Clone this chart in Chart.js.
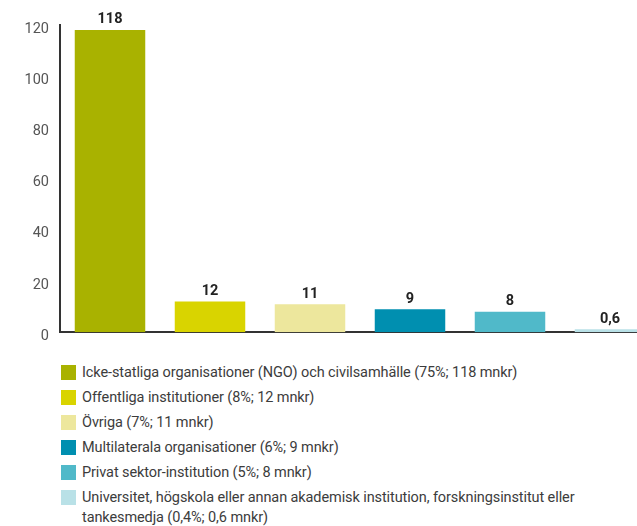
<!DOCTYPE html>
<html lang="sv">
<head>
    <meta charset="UTF-8">
    <title>Mottagare</title>
    <script src="https://cdn.jsdelivr.net/npm/chart.js"></script>
    <style>
        body { margin: 0; background: #fff; overflow: hidden; width: 637px; height: 526px; }
        #wrap { position: absolute; left: 0; top: 0; width: 660px; height: 352px; }
        #legend { position: absolute; left: 61px; top: 363px; font-family: Roboto, sans-serif; font-size: 14.5px; color: #3c3c3c; }
        .item { display: flex; align-items: flex-start; margin-bottom: 5px; }
        .sw { width: 15px; height: 15px; flex: none; margin-top: 2px; margin-right: 6px; }
        .txt { width: 530px; line-height: 20px; letter-spacing: -0.1px; }
    </style>
</head>
<body>
<div id="wrap"><canvas id="chart"></canvas></div>
<div id="legend"></div>
<script>
    var labels = [
        'Icke-statliga organisationer (NGO) och civilsamhälle (75%; 118 mnkr)',
        'Offentliga institutioner (8%; 12 mnkr)',
        'Övriga (7%; 11 mnkr)',
        'Multilaterala organisationer (6%; 9 mnkr)',
        'Privat sektor-institution (5%; 8 mnkr)',
        'Universitet, högskola eller annan akademisk institution, forskningsinstitut eller tankesmedja (0,4%; 0,6 mnkr)'
    ];
    var values = [118, 12, 11, 9, 8, 0.6];
    var valueText = ['118', '12', '11', '9', '8', '0,6'];
    var colors = ['#a9b200', '#d9d400', '#ede79d', '#008fb0', '#50b9c9', '#b9e1e7'];

    // value labels above each bar
    var topLabels = {
        id: 'topLabels',
        afterDatasetsDraw: function(chart) {
            var ctx = chart.ctx;
            var meta = chart.getDatasetMeta(0);
            ctx.save();
            ctx.font = 'bold 14.5px Roboto, sans-serif';
            ctx.fillStyle = '#222';
            ctx.textAlign = 'center';
            ctx.textBaseline = 'bottom';
            meta.data.forEach(function(bar, i) {
                ctx.fillText(valueText[i], bar.x, bar.y - 3);
            });
            ctx.restore();
        }
    };

    var ctx = document.getElementById('chart').getContext('2d');
    var chart = new Chart(ctx, {
        type: 'bar',
        data: {
            labels: labels,
            datasets: [{
                data: values,
                backgroundColor: colors,
                barPercentage: 0.705,
                categoryPercentage: 1,
                minBarLength: 3
            }]
        },
        options: {
            responsive: true,
            maintainAspectRatio: false,
            animation: false,
            layout: { padding: { top: 25, bottom: 14 } },
            plugins: { legend: { display: false }, tooltip: { enabled: false } },
            scales: {
                x: {
                    grid: { display: false },
                    ticks: { display: false },
                    border: { display: true, color: '#333', width: 2 },
                    afterFit: function(s) { s.height = 0; }
                },
                y: {
                    min: 0,
                    max: 120,
                    grid: { display: false, drawTicks: false },
                    border: { display: true, color: '#333', width: 2 },
                    ticks: {
                        stepSize: 20,
                        padding: 11,
                        labelOffset: 4,
                        color: '#555',
                        font: { family: 'Roboto, sans-serif', size: 14.5 }
                    },
                    afterFit: function(s) { s.width = 60; }
                }
            }
        },
        plugins: [topLabels]
    });

    var legend = document.getElementById('legend');
    labels.forEach(function(l, i) {
        var row = document.createElement('div');
        row.className = 'item';
        var sw = document.createElement('div');
        sw.className = 'sw';
        sw.style.background = colors[i];
        var t = document.createElement('div');
        t.className = 'txt';
        t.textContent = l;
        row.appendChild(sw);
        row.appendChild(t);
        legend.appendChild(row);
    });
</script>
</body>
</html>
